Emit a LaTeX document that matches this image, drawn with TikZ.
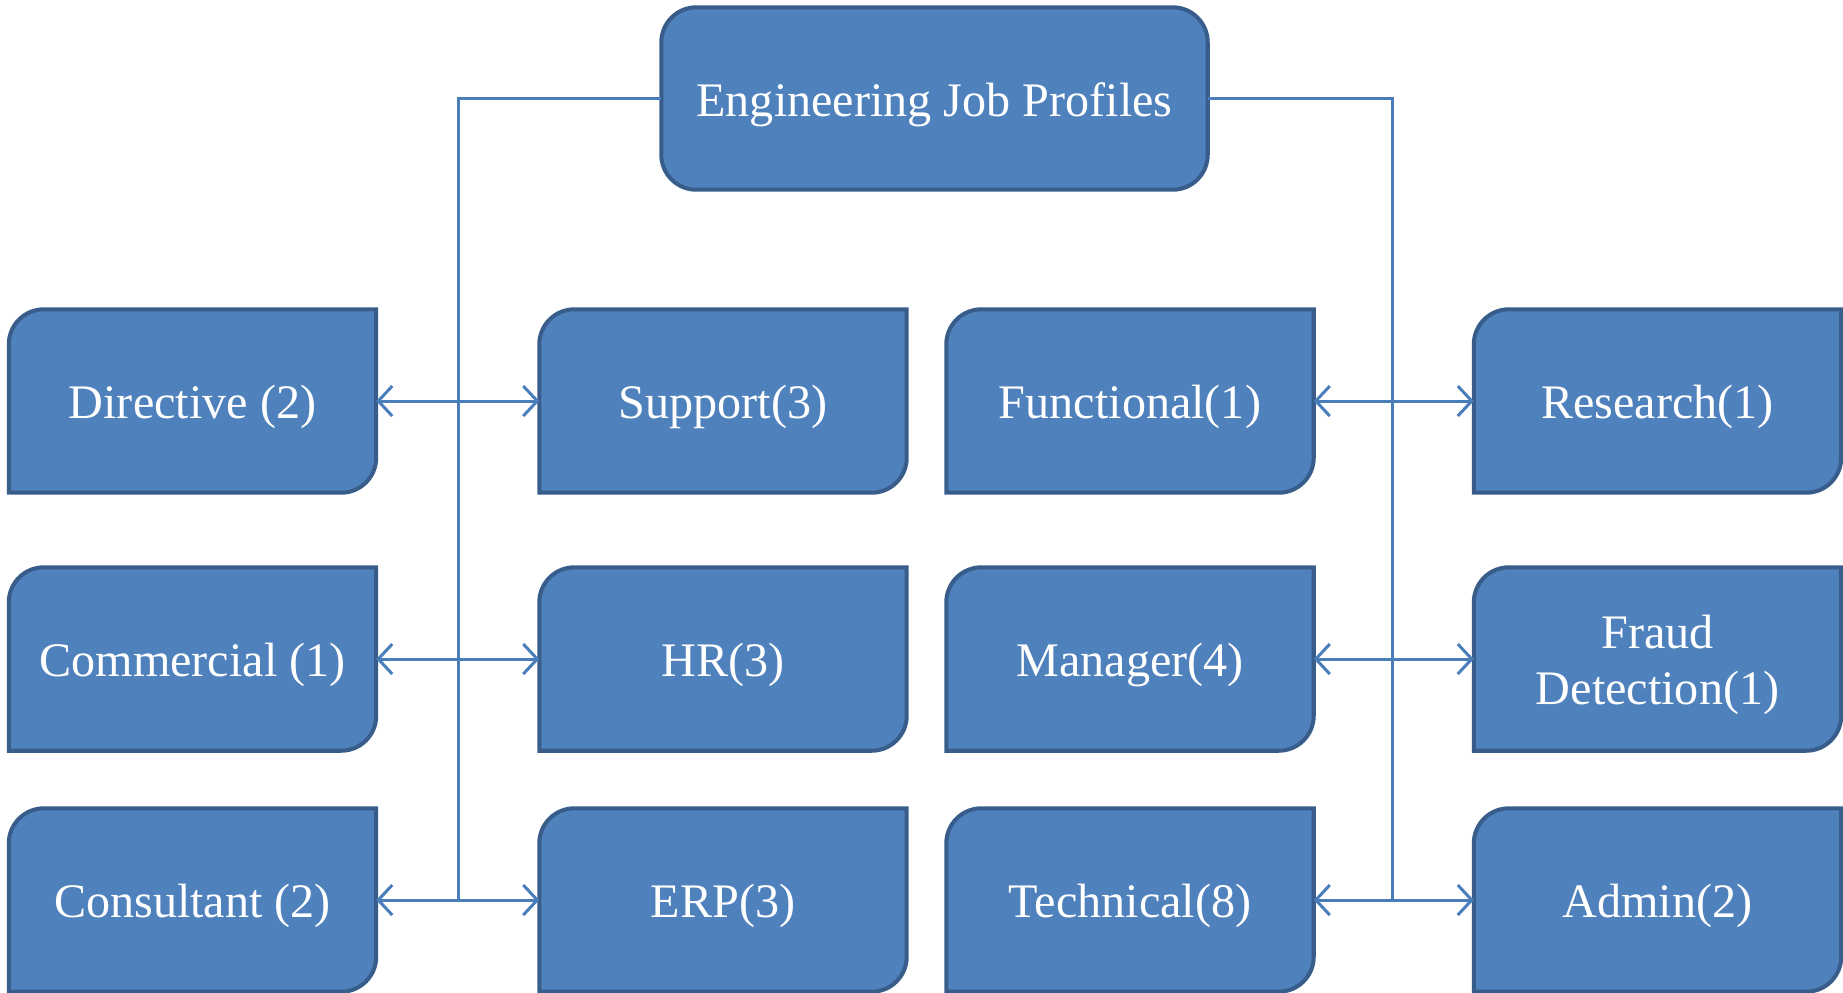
\documentclass[tikz,border=0pt]{standalone}
\usepackage{fontspec}
\setmainfont{Liberation Serif}
\usepackage{tikz}
\usetikzlibrary{arrows.meta,backgrounds}

\definecolor{boxblue}{HTML}{4F81BD}
\definecolor{boxedge}{HTML}{385D8A}
\definecolor{linkblue}{HTML}{4A7EBB}

\tikzset{
  profile/.style={minimum width=3.66cm, minimum height=1.82cm, inner sep=0pt,
    text height=13.5pt, text depth=3.5pt,
    text=white, align=center, font=\fontsize{13.7}{16}\selectfont},
  boxface/.style={fill=boxblue, draw=boxedge, line width=1.15pt},
  link/.style={draw=linkblue, line width=0.85pt},
  twoway/.style={link, {Straight Barb[length=1.4mm,width=3mm]}-{Straight Barb[length=1.4mm,width=3mm]}}
}

\begin{document}
\begin{tikzpicture}
    \useasboundingbox (0,0) rectangle (18.43,-9.92);

    \node[profile, minimum width=5.45cm, minimum height=1.81cm] (top) at (9.345,-0.985) {Engineering Job Profiles};

    % left side
    \node[profile] (dir) at (1.925,-4.01) {Directive (2)};
    \node[profile] (sup) at (7.23,-4.01) {Support(3)};
    \node[profile] (com) at (1.925,-6.59) {Commercial (1)};
    \node[profile] (hr) at (7.23,-6.59) {HR(3)};
    \node[profile] (con) at (1.925,-9.0) {Consultant (2)};
    \node[profile] (erp) at (7.23,-9.0) {ERP(3)};

    % right side
    \node[profile] (fun) at (11.30,-4.01) {Functional(1)};
    \node[profile] (res) at (16.575,-4.01) {Research(1)};
    \node[profile] (man) at (11.30,-6.59) {Manager(4)};
    \node[profile, text height=29.5pt] (fraud) at (16.575,-6.59) {Fraud\\Detection(1)};
    \node[profile] (tech) at (11.30,-9.0) {Technical(8)};
    \node[profile] (adm) at (16.575,-9.0) {Admin(2)};

    \begin{pgfonlayer}{background}
    \foreach \n in {dir,sup,com,hr,con,erp,fun,res,man,fraud,tech,adm}
      \draw[boxface] (\n.south west) -- ([yshift=-0.35cm]\n.north west)
        arc[start angle=180, end angle=90, radius=0.35cm] -- (\n.north east)
        -- ([yshift=0.35cm]\n.south east)
        arc[start angle=0, end angle=-90, radius=0.35cm] -- cycle;
    \draw[boxface, rounded corners=0.35cm] (top.south west) rectangle (top.north east);
    \end{pgfonlayer}

    % trunks
    \coordinate (l1) at (4.58,-4.01);
    \coordinate (l2) at (4.58,-6.59);
    \coordinate (l3) at (4.58,-9.0);
    \coordinate (r1) at (13.92,-4.01);
    \coordinate (r2) at (13.92,-6.59);
    \coordinate (r3) at (13.92,-9.0);
    \draw[link] (top.west) -| (l3);
    \draw[link] (top.east) -| (r3);

    \draw[twoway] (dir.east) -- (l1) -- (sup.west);
    \draw[twoway] (com.east) -- (l2) -- (hr.west);
    \draw[twoway] (con.east) -- (l3) -- (erp.west);
    \draw[twoway] (fun.east) -- (r1) -- (res.west);
    \draw[twoway] (man.east) -- (r2) -- (fraud.west);
    \draw[twoway] (tech.east) -- (r3) -- (adm.west);
\end{tikzpicture}
\end{document}
